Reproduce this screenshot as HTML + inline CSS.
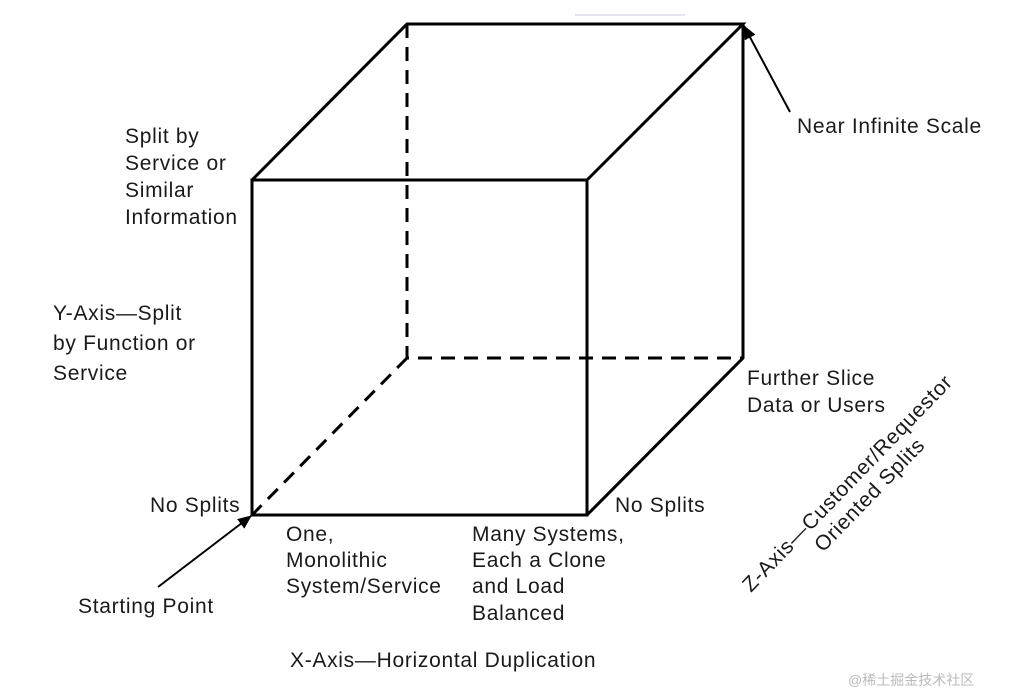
<!DOCTYPE html>
<html><head><style>
body{margin:0;background:#fff}
svg text{font-family:"Liberation Sans",Arial,sans-serif;font-size:21px;letter-spacing:0.7px;fill:#1a1a1a}
</style></head><body>
<svg width="1013" height="695" viewBox="0 0 1013 695">
<defs><marker id="a" markerWidth="14" markerHeight="12" refX="13" refY="6" orient="auto" markerUnits="userSpaceOnUse"><path d="M0,0 L14,6 L0,12 Z" fill="#000"/></marker></defs>
<g stroke="#000" stroke-width="3" fill="none">
<rect x="252" y="180" width="335" height="335"/>
<path d="M252,180 L407,24 L743,24 L587,180 M743,24 L743,358 L587,515"/>
</g>
<g stroke="#000" stroke-width="3" fill="none" stroke-dasharray="14,9">
<path d="M407,24 L407,358 L743,358 M407,358 L252,515"/>
</g>
<line x1="575" y1="15" x2="685" y2="15" stroke="#e4e4f4" stroke-width="2"/>
<g stroke="#000" stroke-width="2">
<line x1="158" y1="587" x2="251" y2="516" marker-end="url(#a)"/>
<line x1="790" y1="112" x2="744" y2="26" marker-end="url(#a)"/>
</g>
<text x="797" y="133">Near Infinite Scale</text>
<text x="125" y="143">Split by</text>
<text x="125" y="170">Service or</text>
<text x="125" y="197">Similar</text>
<text x="125" y="224">Information</text>
<text x="53" y="320">Y-Axis—Split</text>
<text x="53" y="350">by Function or</text>
<text x="53" y="380">Service</text>
<text x="150" y="512">No Splits</text>
<text x="615" y="512">No Splits</text>
<text x="747" y="385">Further Slice</text>
<text x="747" y="412">Data or Users</text>
<text x="286" y="541">One,</text>
<text x="286" y="567">Monolithic</text>
<text x="286" y="593">System/Service</text>
<text x="472" y="541">Many Systems,</text>
<text x="472" y="567">Each a Clone</text>
<text x="472" y="593">and Load</text>
<text x="472" y="620">Balanced</text>
<text x="78" y="613">Starting Point</text>
<text x="290" y="667">X-Axis—Horizontal Duplication</text>
<text transform="translate(751,593) rotate(-46)">Z-Axis—Customer/Requestor</text>
<text transform="translate(823,553) rotate(-46)">Oriented Splits</text>
<text x="848" y="685" style="font-size:14px;letter-spacing:0;fill:#bbb;font-family:'Liberation Sans','Noto Sans CJK SC',sans-serif">@稀土掘金技术社区</text>
</svg>
</body></html>
